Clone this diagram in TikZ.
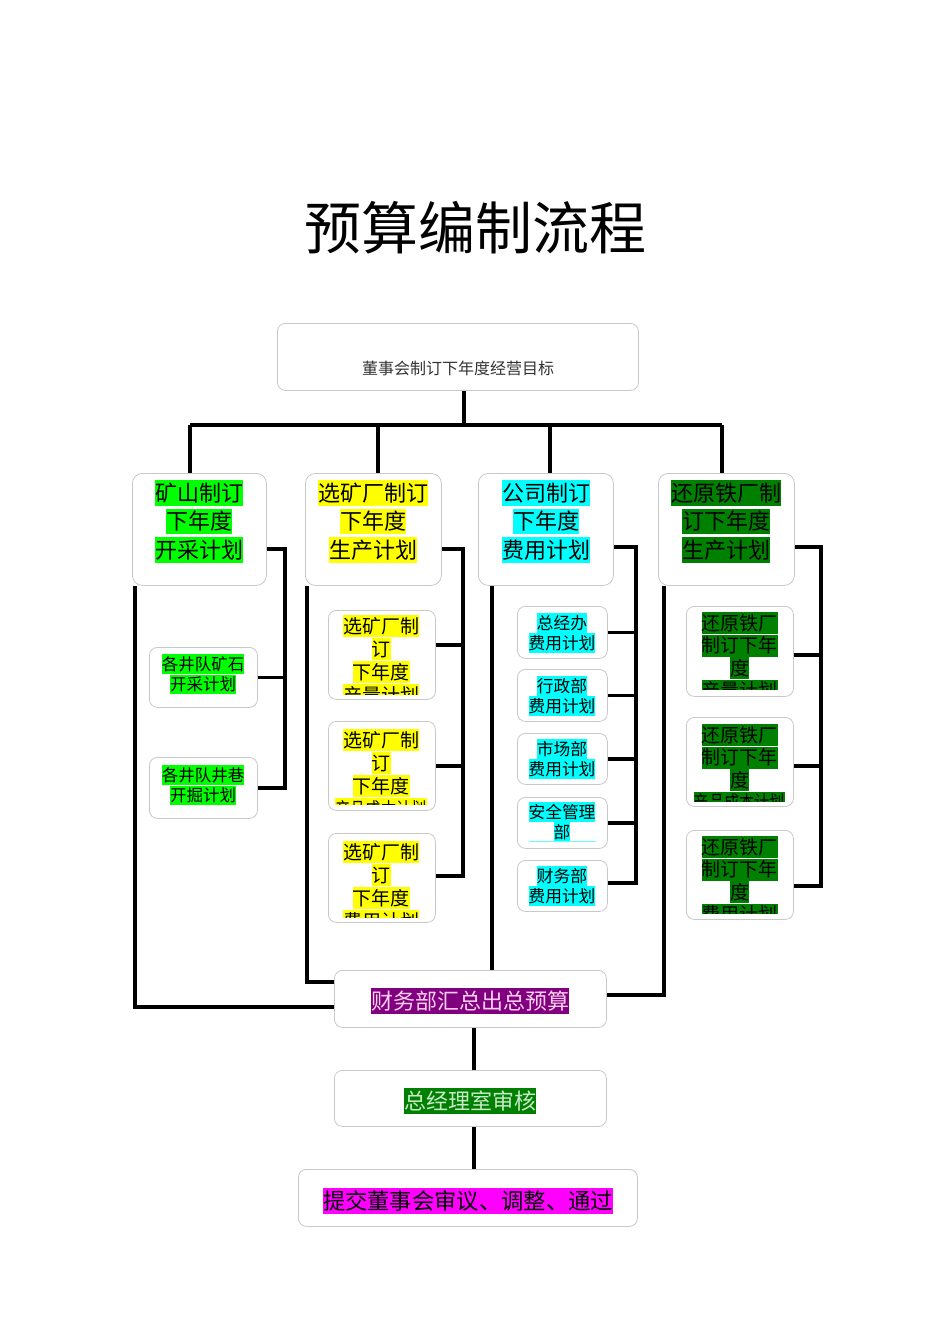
\documentclass[tikz,border=0pt]{standalone}
\usepackage{fontspec}
\setmainfont{Noto Sans CJK SC}
\usetikzlibrary{backgrounds}
\setlength\fboxsep{0pt}
\definecolor{hlgreen}{HTML}{00FF00}
\definecolor{hlyellow}{HTML}{FFFF00}
\definecolor{hlcyan}{HTML}{00FFFF}
\definecolor{hldark}{HTML}{008000}
\definecolor{hlpurple}{HTML}{800080}
\definecolor{hlmag}{HTML}{FF00FF}
\definecolor{bordergray}{HTML}{C8C8C8}
\definecolor{paletext}{HTML}{FFD0F0}
\definecolor{palegreen}{HTML}{C8E8C8}
\newcommand\hl[2]{\colorbox{#1}{\rule[-0.2em]{0pt}{1.16em}#2}}
\newcommand\fs[2]{\fontsize{#1}{#2}\selectfont}
\newcommand\narrow[1]{\scalebox{0.8}[1]{#1}}
\begin{document}
\begin{tikzpicture}[x=1pt,y=-1pt,
  box/.style={draw=bordergray, line width=0.8pt, fill=white, rounded corners=8pt, anchor=north west, inner sep=0pt},
  txt/.style={inner sep=0pt, align=center, text=black},
  conn/.style={line width=3.6pt, line join=miter}]
\useasboundingbox (0,0) rectangle (950,1344);

% title
\node[txt, font=\fs{57}{60}] (title) at (475,228) {预算编制流程};

% boxes
\node[box, minimum width=361, minimum height=67] (top) at (277,323) {};
\node[txt, font=\fs{16}{18}, text=black!80] (topt) at (458,368) {董事会制订下年度经营目标};

\node[box, rounded corners=10pt, minimum width=134, minimum height=112] (h1) at (132,473) {};
\node[box, rounded corners=10pt, minimum width=136, minimum height=112] (h2) at (305,473) {};
\node[box, rounded corners=10pt, minimum width=135, minimum height=112] (h3) at (478,473) {};
\node[box, rounded corners=10pt, minimum width=136, minimum height=112] (h4) at (658,473) {};
\node[txt, font=\fs{22}{28.5}] (h1t) at (199,521.5) {\hl{hlgreen}{矿山制订}\\\hl{hlgreen}{下年度}\\\hl{hlgreen}{开采计划}};
\node[txt, font=\fs{22}{28.5}] (h2t) at (373,521.5) {\hl{hlyellow}{选矿厂制订}\\\hl{hlyellow}{下年度}\\\hl{hlyellow}{生产计划}};
\node[txt, font=\fs{22}{28.5}] (h3t) at (546,521.5) {\hl{hlcyan}{公司制订}\\\hl{hlcyan}{下年度}\\\hl{hlcyan}{费用计划}};
\node[txt, font=\fs{22}{28.5}] (h4t) at (726,521.5) {\hl{hldark}{还原铁厂制}\\\hl{hldark}{订下年度}\\\hl{hldark}{生产计划}};

% column 1 sub boxes
\node[box, minimum width=108, minimum height=60] (s11) at (149,647) {};
\node[box, minimum width=108, minimum height=61] (s12) at (149,757) {};
\node[txt, font=\fs{16.5}{19}] (s11t) at (203,674) {\hl{hlgreen}{各井队矿石}\\\hl{hlgreen}{开采计划}};
\node[txt, font=\fs{16.5}{19}] (s12t) at (203,785) {\hl{hlgreen}{各井队井巷}\\\hl{hlgreen}{开掘计划}};

% column 2 sub boxes
\node[box, minimum width=107, minimum height=89] (s21) at (328,610) {};
\node[box, minimum width=107, minimum height=89] (s22) at (328,721) {};
\node[box, minimum width=107, minimum height=89] (s23) at (328,833) {};
\begin{scope}
\clip (328,610) rectangle (435,694);
\node[txt, anchor=north, font=\fs{19}{23}] (s21t) at (381,615) {\hl{hlyellow}{选矿厂制}\\\hl{hlyellow}{订}\\\hl{hlyellow}{下年度}\\\hl{hlyellow}{产量计划}};
\end{scope}
\begin{scope}
\clip (328,721) rectangle (435,804);
\node[txt, anchor=north, font=\fs{19}{23}] (s22t) at (381,729) {\hl{hlyellow}{选矿厂制}\\\hl{hlyellow}{订}\\\hl{hlyellow}{下年度}\\\hl{hlyellow}{\narrow{产品成本计划}}};
\end{scope}
\begin{scope}
\clip (328,833) rectangle (435,917);
\node[txt, anchor=north, font=\fs{19}{23}] (s23t) at (381,841) {\hl{hlyellow}{选矿厂制}\\\hl{hlyellow}{订}\\\hl{hlyellow}{下年度}\\\hl{hlyellow}{费用计划}};
\end{scope}

% column 3 sub boxes
\node[box, minimum width=90, minimum height=52] (s31) at (517,606) {};
\node[box, minimum width=90, minimum height=52] (s32) at (517,669) {};
\node[box, minimum width=90, minimum height=51] (s33) at (517,733) {};
\node[box, minimum width=90, minimum height=51] (s34) at (517,797) {};
\node[box, minimum width=90, minimum height=51] (s35) at (517,860) {};
\node[txt, font=\fs{16.7}{20}] (s31t) at (562,633) {\hl{hlcyan}{总经办}\\\hl{hlcyan}{费用计划}};
\node[txt, font=\fs{16.7}{20}] (s32t) at (562,696) {\hl{hlcyan}{行政部}\\\hl{hlcyan}{费用计划}};
\node[txt, font=\fs{16.7}{20}] (s33t) at (562,759) {\hl{hlcyan}{市场部}\\\hl{hlcyan}{费用计划}};
\node[txt, font=\fs{16.7}{20}] (s34t) at (562,822) {\hl{hlcyan}{安全管理}\\\hl{hlcyan}{部}};
\draw[hlcyan!60, line width=0.6pt] (529,841) -- (596,841);
\node[txt, font=\fs{16.7}{20}] (s35t) at (562,886) {\hl{hlcyan}{财务部}\\\hl{hlcyan}{费用计划}};

% column 4 sub boxes
\node[box, minimum width=107, minimum height=90] (s41) at (686,606) {};
\node[box, minimum width=107, minimum height=89] (s42) at (686,717) {};
\node[box, minimum width=107, minimum height=89] (s43) at (686,830) {};
\begin{scope}
\clip (686,606) rectangle (793,689);
\node[txt, anchor=north, font=\fs{19}{22.5}] (s41t) at (739.5,612) {\hl{hldark}{还原铁厂}\\\hl{hldark}{制订下年}\\\hl{hldark}{度}\\\hl{hldark}{产量计划}};
\end{scope}
\begin{scope}
\clip (686,717) rectangle (793,801);
\node[txt, anchor=north, font=\fs{19}{22.5}] (s42t) at (739.5,724) {\hl{hldark}{还原铁厂}\\\hl{hldark}{制订下年}\\\hl{hldark}{度}\\\hl{hldark}{\narrow{产品成本计划}}};
\end{scope}
\begin{scope}
\clip (686,830) rectangle (793,913);
\node[txt, anchor=north, font=\fs{19}{22.5}] (s43t) at (739.5,836) {\hl{hldark}{还原铁厂}\\\hl{hldark}{制订下年}\\\hl{hldark}{度}\\\hl{hldark}{费用计划}};
\end{scope}

% bottom boxes
\node[box, minimum width=272, minimum height=57] (fin) at (334,970) {};
\node[box, minimum width=272, minimum height=56] (gm) at (334,1070) {};
\node[box, minimum width=339, minimum height=57] (sub) at (298,1169) {};
\node[txt, font=\fs{22}{26}, text=paletext] (fint) at (470,1001) {\hl{hlpurple}{财务部汇总出总预算}};
\node[txt, font=\fs{22}{26}, text=palegreen] (gmt) at (470,1101) {\hl{hldark}{总经理室审核}};
\node[txt, font=\fs{22.3}{26}] (subt) at (468,1201) {\hl{hlmag}{提交董事会审议、调整、通过}};

% connectors
\begin{pgfonlayer}{background}
\coordinate (bus) at (464,425);
\coordinate (b1) at (190,425);
\coordinate (b2) at (378,425);
\coordinate (b3) at (550,425);
\coordinate (b4) at (722,425);
\draw[conn] (top.south -| bus) -- (bus);
\draw[conn] (b1) -- (b4);
\draw[conn] (b1) -- (b1 |- h1.north);
\draw[conn] (b2) -- (b2 |- h2.north);
\draw[conn] (b3) -- (b3 |- h3.north);
\draw[conn] (b4) -- (b4 |- h4.north);

% column 1
\coordinate (sp1) at (285,549);
\draw[conn] (h1.east |- sp1) -- (sp1) -- (sp1 |- s12.east) -- (s12.east);
\draw[conn] (s11.east) -- (s11.east -| sp1);
\coordinate (l1) at (135,1007);
\draw[conn] (l1 |- h1.south) -- (l1) -- (l1 -| fin.west);

% column 2
\coordinate (sp2) at (463,549);
\coordinate (j21) at (463,645);
\coordinate (j23) at (463,876);
\draw[conn] (h2.east |- sp2) -- (sp2) -- (j23) -- (j23 -| s23.east);
\draw[conn] (j21) -- (j21 -| s21.east);
\draw[conn] (s22.east) -- (s22.east -| sp2);
\coordinate (l2) at (307,982);
\draw[conn] (l2 |- h2.south) -- (l2) -- (l2 -| fin.west);

% column 3
\coordinate (sp3) at (636,547);
\coordinate (j35) at (636,883);
\draw[conn] (h3.east |- sp3) -- (sp3) -- (j35) -- (j35 -| s35.east);
\draw[conn] (s31.east) -- (s31.east -| sp3);
\draw[conn] (s32.east) -- (s32.east -| sp3);
\draw[conn] (s33.east) -- (s33.east -| sp3);
\draw[conn] (s34.east) -- (s34.east -| sp3);
\coordinate (l3) at (492,970);
\draw[conn] (l3 |- h3.south) -- (l3 |- fin.north);

% column 4
\coordinate (sp4) at (821,547);
\coordinate (j41) at (821,655);
\coordinate (j42) at (821,766);
\coordinate (j43) at (821,886);
\draw[conn] (h4.east |- sp4) -- (sp4) -- (j43) -- (j43 -| s43.east);
\draw[conn] (j41) -- (j41 -| s41.east);
\draw[conn] (j42) -- (j42 -| s42.east);
\coordinate (l4) at (664,995);
\draw[conn] (l4 |- h4.south) -- (l4) -- (l4 -| fin.east);

% bottom chain
\coordinate (vx) at (474,1048);
\draw[conn] (vx |- fin.south) -- (vx |- gm.north);
\draw[conn] (vx |- gm.south) -- (vx |- sub.north);
\end{pgfonlayer}
\end{tikzpicture}
\end{document}
